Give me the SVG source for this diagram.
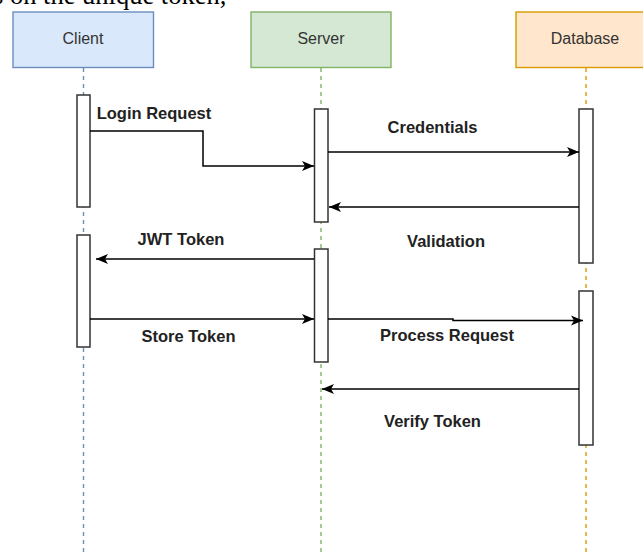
<svg xmlns="http://www.w3.org/2000/svg" width="643" height="553" viewBox="0 0 643 553">
  <style>
    .head { font-family: "Liberation Sans", Arial, sans-serif; font-size: 16px; fill: #333333; text-anchor: middle; }
    .msg { font-family: "Liberation Sans", Arial, sans-serif; font-size: 16.5px; font-weight: bold; fill: #222222; text-anchor: middle; }
    .life { stroke-width: 1.4; stroke-dasharray: 4 4; fill: none; }
    .bar { fill: #ffffff; stroke: #333333; stroke-width: 1.5; }
    .call { fill: none; stroke: #000000; stroke-width: 1.5; marker-end: url(#arr); }
  </style>
  <defs>
    <marker id="arr" markerUnits="userSpaceOnUse" markerWidth="14" markerHeight="12" viewBox="-13 -6 14 12" refX="0" refY="0" orient="auto">
      <path d="M0,0 L-12,-5 L-9,0 L-12,5 Z" fill="#000000"/>
    </marker>
  </defs>
  <rect width="643" height="553" fill="#ffffff"/>

  <!-- trailing line of the preceding paragraph -->
  <text x="-7" y="4" font-family="'Liberation Serif', 'Times New Roman', serif" font-size="26.5" fill="#000000">s on the unique token,</text>

  <!-- lifelines -->
  <g id="lifelines">
    <line class="life" x1="83.5" y1="68" x2="83.5" y2="553" stroke="#6c8ebf"/>
    <line class="life" x1="321" y1="68" x2="321" y2="553" stroke="#82b366"/>
    <line class="life" x1="586" y1="68" x2="586" y2="553" stroke="#d79b00"/>
  </g>

  <!-- participants -->
  <g id="client">
    <rect x="13" y="12" width="140.5" height="55.5" fill="#dae8fc" stroke="#6c8ebf" stroke-width="1.4"/>
    <text class="head" x="83" y="44">Client</text>
  </g>
  <g id="server">
    <rect x="251" y="12" width="140" height="55.5" fill="#d5e8d4" stroke="#82b366" stroke-width="1.4"/>
    <text class="head" x="321" y="44">Server</text>
  </g>
  <g id="database">
    <rect x="516" y="12" width="140" height="55.5" fill="#ffe6cc" stroke="#d79b00" stroke-width="1.4"/>
    <text class="head" x="585" y="44">Database</text>
  </g>

  <!-- activation bars -->
  <g id="client-act-1"><rect class="bar" x="77" y="95" width="13" height="112"/></g>
  <g id="client-act-2"><rect class="bar" x="77" y="235" width="13" height="112"/></g>
  <g id="server-act-1"><rect class="bar" x="314.5" y="109" width="13.5" height="113"/></g>
  <g id="server-act-2"><rect class="bar" x="314.5" y="249" width="13.5" height="113"/></g>
  <g id="database-act-1"><rect class="bar" x="579" y="109" width="14" height="154"/></g>
  <g id="database-act-2"><rect class="bar" x="579" y="291" width="14" height="154"/></g>

  <!-- messages -->
  <g id="connectors">
    <path class="call" d="M90,131 H203 V166 H314"/>
    <path class="call" d="M328,152 H579"/>
    <path class="call" d="M579,207 H329"/>
    <path class="call" d="M314,259 H96"/>
    <path class="call" d="M90,319 H314"/>
    <path class="call" d="M328,319 H453 V320.5 H583"/>
    <path class="call" d="M579,389 H322"/>
  </g>

  <!-- message labels -->
  <g id="labels">
    <text class="msg" x="154" y="119">Login Request</text>
    <text class="msg" x="432.5" y="133">Credentials</text>
    <text class="msg" x="446" y="247">Validation</text>
    <text class="msg" x="181" y="245">JWT Token</text>
    <text class="msg" x="188.5" y="342">Store Token</text>
    <text class="msg" x="447" y="341">Process Request</text>
    <text class="msg" x="432.5" y="427">Verify Token</text>
  </g>
</svg>
